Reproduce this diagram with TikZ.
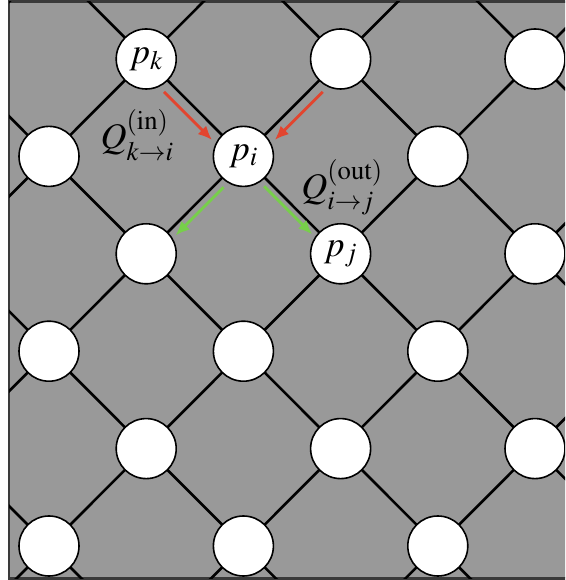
\documentclass[tikz,border=0pt]{standalone}
\usepackage{mathptmx}
\usetikzlibrary{arrows.meta}

\definecolor{bggray}{RGB}{153,153,153}
\definecolor{framegray}{RGB}{58,58,58}
\definecolor{inred}{RGB}{226,69,47}
\definecolor{outgreen}{RGB}{119,207,74}

\begin{document}
\begin{tikzpicture}[x=1pt, y=1pt,
    every node/.style={font=\fontsize{36}{43}\selectfont},
    site/.style={circle, draw=black, line width=1.6pt, fill=white, minimum size=60pt, inner sep=0pt},
    bond/.style={line width=2.6pt},
    flow/.style={-{Latex[length=14pt,width=12pt]}, line width=2.8pt, shorten <=5pt, shorten >=3pt}]

    % Page size
    \useasboundingbox (0,0) rectangle (565,580);
    \clip (0,0) rectangle (565,580);

    % Lattice parameters
    \def\dx{97.2}
    \def\dy{97.4}

    % Background panel
    \filldraw[fill=bggray, draw=framegray, line width=2.5pt] (9,1.5) rectangle (600,578.5);

    % Lattice points (also the ones just outside the panel)
    \foreach \i in {0,...,7} {
        \foreach \j in {0,...,7} {
            \pgfmathtruncatemacro{\odd}{mod(\i+\j,2)}
            \ifnum\odd=1
                \coordinate (g-\i-\j) at ({-48.2+\i*\dx}, {618.4-\j*\dy});
            \fi
        }
    }

    % Bonds
    \begin{scope}
        \clip (9,1.5) rectangle (600,578.5);
        \foreach \i [evaluate=\i as \ip using int(\i+1)] in {0,...,6} {
            \foreach \j [evaluate=\j as \jp using int(\j+1)] in {0,...,6} {
                \pgfmathtruncatemacro{\odd}{mod(\i+\j,2)}
                \ifnum\odd=1
                    \draw[bond] (g-\i-\j) -- (g-\ip-\jp);
                \else
                    \draw[bond] (g-\ip-\j) -- (g-\i-\jp);
                \fi
            }
        }
    \end{scope}

    % Empty sites
    \foreach \i in {1,...,6} {
        \foreach \j in {1,...,6} {
            \pgfmathtruncatemacro{\odd}{mod(\i+\j,2)}
            \pgfmathtruncatemacro{\id}{10*\i+\j}
            \ifnum\odd=1
                \ifnum\id=21 \else\ifnum\id=32 \else\ifnum\id=43 \else
                    \node[site] (s-\i-\j) at (g-\i-\j) {};
                \fi\fi\fi
            \fi
        }
    }

    % Labelled sites
    \node[site] (pk) at (g-2-1) {$p_k$};
    \node[site] (pi) at (g-3-2) {$p_i$};
    \node[site] (pj) at (g-4-3) {$p_j$};

    % Inflow and outflow
    \draw[flow, inred, transform canvas={xshift=-7.5pt, yshift=-7.5pt}] (pk) -- (pi);
    \draw[flow, inred, transform canvas={xshift=7.5pt, yshift=-7.5pt}] (s-4-1) -- (pi);
    \draw[flow, outgreen, transform canvas={xshift=5.5pt, yshift=-5.5pt}] (pi) -- (s-2-3);
    \draw[flow, outgreen, transform canvas={xshift=-4.5pt, yshift=-4.5pt}] (pi) -- (pj);

    % Flux labels
    \node (qin) at (137,445) {$Q^{(\mathrm{in})}_{k\to i}$};
    \node (qout) at (342,393) {$Q^{(\mathrm{out})}_{i\to j}$};

\end{tikzpicture}
\end{document}
